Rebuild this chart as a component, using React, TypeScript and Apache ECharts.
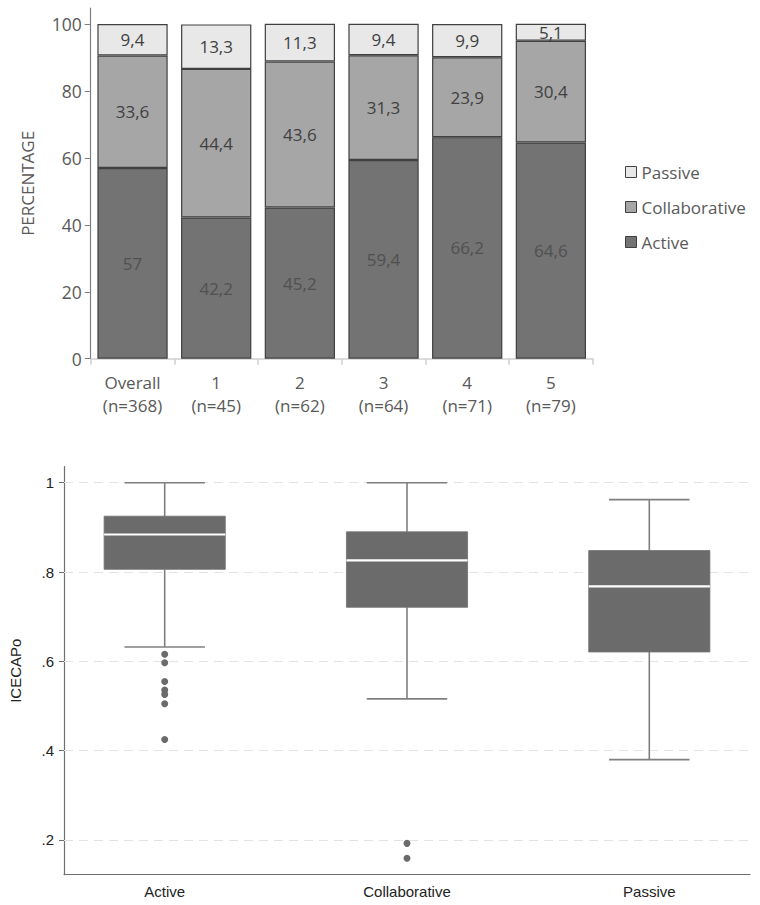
import React, { useEffect, useRef } from "react";
import * as echarts from "echarts";

// ---- Top chart data (stacked percentages) ----
const groupNames = ["Overall", "1", "2", "3", "4", "5"];
const groupNs = ["(n=368)", "(n=45)", "(n=62)", "(n=64)", "(n=71)", "(n=79)"];
const activePct = [57, 42.2, 45.2, 59.4, 66.2, 64.6];
const collaborativePct = [33.6, 44.4, 43.6, 31.3, 23.9, 30.4];
const passivePct = [9.4, 13.3, 11.3, 9.4, 9.9, 5.1];
const pctTicks = [0, 20, 40, 60, 80, 100];

// ---- Bottom chart data (box plot of ICECAPo) ----
const boxCategories = ["Active", "Collaborative", "Passive"];
// [lower whisker, Q1, median, Q3, upper whisker]
const activeBox = [0.632, 0.806, 0.884, 0.925, 1.0];
const collaborativeBox = [0.516, 0.721, 0.826, 0.89, 1.0];
const passiveBox = [0.38, 0.621, 0.768, 0.848, 0.962];
const activeOutliers = [0.616, 0.597, 0.555, 0.536, 0.526, 0.505, 0.425];
const collaborativeOutliers = [0.1925, 0.159];
const passiveOutliers: number[] = [];
const iceTicks = [0.2, 0.4, 0.6, 0.8, 1.0];

const fmtComma = (v: number) => String(v).replace(".", ",");

export default function App() {
  const ref = useRef<HTMLDivElement>(null);
  useEffect(() => {
    if (!ref.current) return;
    const chart = echarts.init(ref.current, undefined, { renderer: "svg" });
    const topFont = "Open Sans";
    const botFont = "Liberation Sans";
    const topSize = 17;
    const barBorder = { borderColor: "#404040", borderWidth: 1.2 };
    const barLabel = (color: string) => ({
      show: true,
      position: "inside",
      fontFamily: topFont,
      fontSize: topSize,
      color,
      formatter: (p: any) => fmtComma(p.value),
    });

    const boxes = [activeBox, collaborativeBox, passiveBox].map((b, i) => [i, ...b]);
    const outlierPts: number[][] = [];
    [activeOutliers, collaborativeOutliers, passiveOutliers].forEach((arr, i) =>
      arr.forEach((v) => outlierPts.push([i, v]))
    );

    chart.setOption({
      animation: false,
      backgroundColor: "#ffffff",
      grid: [
        { left: 90.7, right: 167.3, top: 8, bottom: 546.3, containLabel: false },
        { left: 59.3, right: 10, top: 466.7, bottom: 30.3, containLabel: false },
      ],
      legend: {
        orient: "vertical",
        left: 625,
        top: 163,
        padding: 0,
        itemWidth: 11,
        itemHeight: 11,
        itemGap: 17,
        icon: "rect",
        data: ["Passive", "Collaborative", "Active"],
        textStyle: { fontFamily: topFont, fontSize: topSize, color: "#595959", lineHeight: 18 },
        itemStyle: { borderColor: "#404040", borderWidth: 1 },
      },
      xAxis: [
        {
          type: "category",
          gridIndex: 0,
          data: groupNames.map((g, i) => g + "\n" + groupNs[i]),
          axisLine: { lineStyle: { color: "#d0d0d0", width: 1.5 } },
          axisTick: { show: true, length: 6, lineStyle: { color: "#d0d0d0", width: 1.5 } },
          axisLabel: {
            fontFamily: topFont,
            fontSize: topSize,
            color: "#595959",
            lineHeight: 23,
            margin: 12,
          },
        },
        {
          type: "value",
          gridIndex: 1,
          min: -0.4156,
          max: 2.4156,
          splitLine: { show: false },
          axisLine: { onZero: false, lineStyle: { color: "#6e6e6e", width: 1.2 } },
          axisTick: { show: false },
          axisLabel: {
            customValues: [0, 1, 2],
            formatter: (v: number) => boxCategories[Math.round(v)] ?? "",
            fontFamily: botFont,
            fontSize: 15,
            color: "#222222",
            margin: 9,
          },
        },
      ],
      yAxis: [
        {
          type: "value",
          gridIndex: 0,
          min: 0,
          max: 104.8,
          name: "PERCENTAGE",
          nameLocation: "middle",
          nameGap: 55,
          nameTextStyle: { fontFamily: topFont, fontSize: topSize, color: "#595959" },
          splitLine: { show: false },
          axisLine: { show: true, onZero: false, lineStyle: { color: "#7f7f7f", width: 1.2 } },
          axisTick: { show: true, length: 6, customValues: pctTicks, lineStyle: { color: "#7f7f7f" } },
          axisLabel: {
            customValues: pctTicks,
            fontFamily: topFont,
            fontSize: 17.5,
            color: "#595959",
            margin: 9,
          },
        },
        {
          type: "value",
          gridIndex: 1,
          min: 0.1223,
          max: 1.0358,
          name: "ICECAPo",
          nameLocation: "middle",
          nameGap: 41,
          nameTextStyle: { fontFamily: botFont, fontSize: 15, color: "#222222" },
          axisLine: { show: true, onZero: false, lineStyle: { color: "#6e6e6e", width: 1.2 } },
          axisTick: { show: true, length: 5, customValues: iceTicks, lineStyle: { color: "#6e6e6e" } },
          axisLabel: {
            customValues: iceTicks,
            formatter: (v: number) => (Math.abs(v - 1) < 1e-9 ? "1" : String(Math.round(v * 10) / 10).replace(/^0/, "")),
            fontFamily: botFont,
            fontSize: 15,
            color: "#222222",
            margin: 10,
          },
          splitLine: { show: false },
        },
      ],
      series: [
        {
          name: "Active",
          type: "bar",
          stack: "pct",
          xAxisIndex: 0,
          yAxisIndex: 0,
          barWidth: "84%",
          data: activePct,
          itemStyle: { color: "#737373", ...barBorder },
          label: barLabel("#505050"),
        },
        {
          name: "Collaborative",
          type: "bar",
          stack: "pct",
          xAxisIndex: 0,
          yAxisIndex: 0,
          barWidth: "84%",
          data: collaborativePct,
          itemStyle: { color: "#a6a6a6", ...barBorder },
          label: barLabel("#404040"),
        },
        {
          name: "Passive",
          type: "bar",
          stack: "pct",
          xAxisIndex: 0,
          yAxisIndex: 0,
          barWidth: "84%",
          data: passivePct,
          itemStyle: { color: "#e8e8e8", ...barBorder },
          label: barLabel("#404040"),
        },
        {
          name: "grid",
          type: "line",
          xAxisIndex: 1,
          yAxisIndex: 1,
          data: [],
          silent: true,
          z: 0,
          zlevel: 0,
          markLine: {
            silent: true,
            symbol: ["none", "none"],
            label: { show: false },
            lineStyle: { color: "#e3e3e3", type: [9, 6], width: 1.2 },
            data: iceTicks.map((v) => ({ yAxis: v })),
          },
        },
        {
          name: "box",
          type: "custom",
          xAxisIndex: 1,
          yAxisIndex: 1,
          z: 5,
          data: boxes,
          renderItem: (params: any, api: any) => {
            const x = api.value(0);
            const lo = api.value(1);
            const q1 = api.value(2);
            const med = api.value(3);
            const q3 = api.value(4);
            const hi = api.value(5);
            const boxW = api.size([0.5, 0])[0];
            const capW = api.size([0.332, 0])[0];
            const pLo = api.coord([x, lo]);
            const pQ1 = api.coord([x, q1]);
            const pMed = api.coord([x, med]);
            const pQ3 = api.coord([x, q3]);
            const pHi = api.coord([x, hi]);
            const cx = pLo[0];
            const wStyle = { stroke: "#7f7f7f", lineWidth: 1.6 };
            return {
              type: "group",
              children: [
                { type: "line", shape: { x1: cx, y1: pHi[1], x2: cx, y2: pQ3[1] }, style: wStyle },
                { type: "line", shape: { x1: cx, y1: pQ1[1], x2: cx, y2: pLo[1] }, style: wStyle },
                { type: "line", shape: { x1: cx - capW / 2, y1: pHi[1], x2: cx + capW / 2, y2: pHi[1] }, style: wStyle },
                { type: "line", shape: { x1: cx - capW / 2, y1: pLo[1], x2: cx + capW / 2, y2: pLo[1] }, style: wStyle },
                {
                  type: "rect",
                  shape: { x: cx - boxW / 2, y: pQ3[1], width: boxW, height: pQ1[1] - pQ3[1] },
                  style: { fill: "#6b6b6b", stroke: "#707070", lineWidth: 0.8 },
                },
                {
                  type: "line",
                  shape: { x1: cx - boxW / 2, y1: pMed[1], x2: cx + boxW / 2, y2: pMed[1] },
                  style: { stroke: "#ffffff", lineWidth: 2.2 },
                },
              ],
            };
          },
        },
        {
          name: "outliers",
          type: "scatter",
          xAxisIndex: 1,
          yAxisIndex: 1,
          z: 6,
          data: outlierPts,
          symbol: "circle",
          symbolSize: 7,
          itemStyle: { color: "#6b6b6b", opacity: 1 },
        },
      ],
    });
    return () => chart.dispose();
  }, []);
  return (
    <div
      ref={ref}
      style={{ position: "absolute", left: 0, top: 0, width: 760, height: 905, background: "#fff" }}
    />
  );
}
